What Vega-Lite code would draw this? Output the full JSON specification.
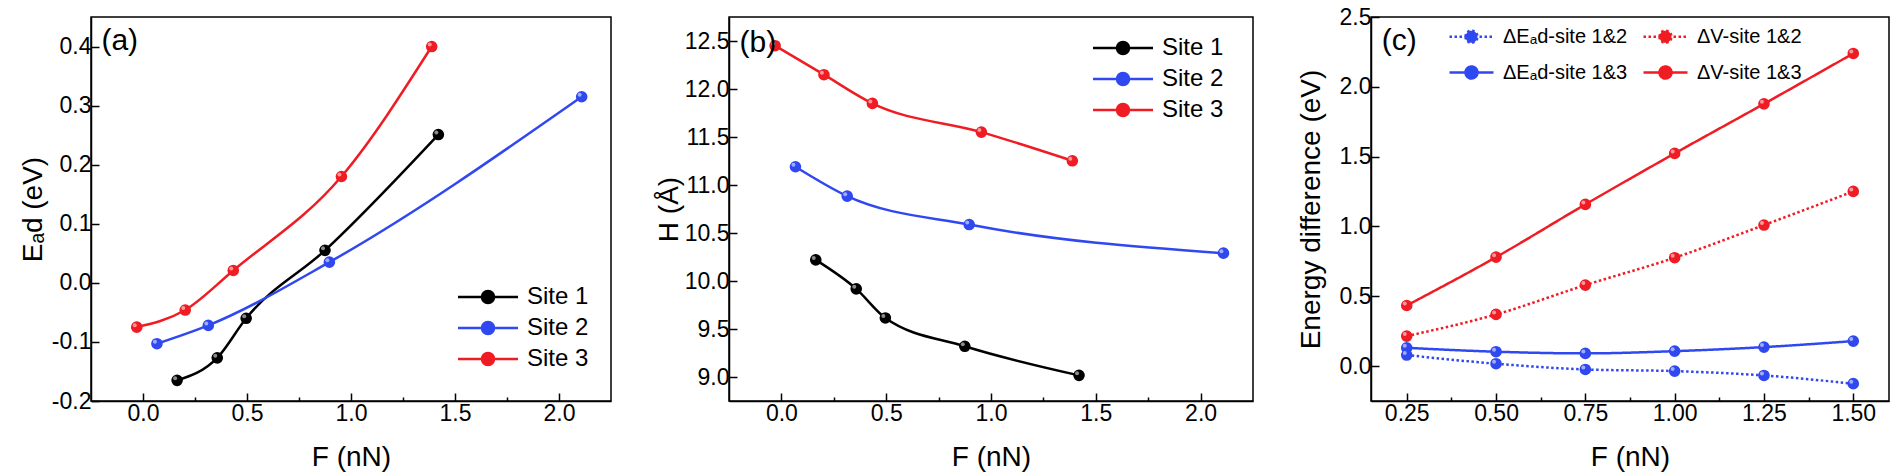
{
  "$schema": "https://vega.github.io/schema/vega-lite/v6.json",
  "background": "white",
  "padding": {"left": 18, "top": 5, "right": 0, "bottom": 0},
  "datasets": {
    "a": [
      {"F": 0.164, "E": -0.165, "site": "Site 1"},
      {"F": 0.357, "E": -0.127, "site": "Site 1"},
      {"F": 0.496, "E": -0.060, "site": "Site 1"},
      {"F": 0.875, "E": 0.055, "site": "Site 1"},
      {"F": 1.42, "E": 0.251, "site": "Site 1"},
      {"F": 0.067, "E": -0.103, "site": "Site 2"},
      {"F": 0.314, "E": -0.072, "site": "Site 2"},
      {"F": 0.896, "E": 0.035, "site": "Site 2"},
      {"F": 2.109, "E": 0.315, "site": "Site 2"},
      {"F": -0.030, "E": -0.075, "site": "Site 3"},
      {"F": 0.203, "E": -0.046, "site": "Site 3"},
      {"F": 0.434, "E": 0.021, "site": "Site 3"},
      {"F": 0.954, "E": 0.180, "site": "Site 3"},
      {"F": 1.388, "E": 0.400, "site": "Site 3"}
    ],
    "b": [
      {"F": 0.164, "H": 10.22, "site": "Site 1"},
      {"F": 0.357, "H": 9.918, "site": "Site 1"},
      {"F": 0.496, "H": 9.615, "site": "Site 1"},
      {"F": 0.875, "H": 9.32, "site": "Site 1"},
      {"F": 1.42, "H": 9.017, "site": "Site 1"},
      {"F": 0.067, "H": 11.19, "site": "Site 2"},
      {"F": 0.314, "H": 10.884, "site": "Site 2"},
      {"F": 0.896, "H": 10.588, "site": "Site 2"},
      {"F": 2.109, "H": 10.29, "site": "Site 2"},
      {"F": -0.030, "H": 12.451, "site": "Site 3"},
      {"F": 0.203, "H": 12.149, "site": "Site 3"},
      {"F": 0.434, "H": 11.85, "site": "Site 3"},
      {"F": 0.954, "H": 11.551, "site": "Site 3"},
      {"F": 1.388, "H": 11.252, "site": "Site 3"}
    ],
    "c": [
      {"F": 0.25, "D": 0.079, "s": "ΔEₐd-site 1&2"},
      {"F": 0.5, "D": 0.017, "s": "ΔEₐd-site 1&2"},
      {"F": 0.75, "D": -0.024, "s": "ΔEₐd-site 1&2"},
      {"F": 1.0, "D": -0.036, "s": "ΔEₐd-site 1&2"},
      {"F": 1.25, "D": -0.067, "s": "ΔEₐd-site 1&2"},
      {"F": 1.5, "D": -0.126, "s": "ΔEₐd-site 1&2"},
      {"F": 0.25, "D": 0.215, "s": "ΔV-site 1&2"},
      {"F": 0.5, "D": 0.370, "s": "ΔV-site 1&2"},
      {"F": 0.75, "D": 0.580, "s": "ΔV-site 1&2"},
      {"F": 1.0, "D": 0.776, "s": "ΔV-site 1&2"},
      {"F": 1.25, "D": 1.010, "s": "ΔV-site 1&2"},
      {"F": 1.5, "D": 1.251, "s": "ΔV-site 1&2"},
      {"F": 0.25, "D": 0.131, "s": "ΔEₐd-site 1&3"},
      {"F": 0.5, "D": 0.103, "s": "ΔEₐd-site 1&3"},
      {"F": 0.75, "D": 0.091, "s": "ΔEₐd-site 1&3"},
      {"F": 1.0, "D": 0.107, "s": "ΔEₐd-site 1&3"},
      {"F": 1.25, "D": 0.136, "s": "ΔEₐd-site 1&3"},
      {"F": 1.5, "D": 0.179, "s": "ΔEₐd-site 1&3"},
      {"F": 0.25, "D": 0.434, "s": "ΔV-site 1&3"},
      {"F": 0.5, "D": 0.780, "s": "ΔV-site 1&3"},
      {"F": 0.75, "D": 1.158, "s": "ΔV-site 1&3"},
      {"F": 1.0, "D": 1.523, "s": "ΔV-site 1&3"},
      {"F": 1.25, "D": 1.878, "s": "ΔV-site 1&3"},
      {"F": 1.5, "D": 2.239, "s": "ΔV-site 1&3"}
    ]
  },
  "bounds": "flush",
  "spacing": 118,
  "hconcat": [
    {
      "width": 520,
      "height": 384,
      "layer": [
        {
          "data": {"name": "a"},
          "mark": {"type": "line", "interpolate": "monotone", "strokeWidth": 2.5, "point": {"filled": true, "size": 135, "opacity": 1}},
          "encoding": {
            "x": {
              "field": "F", "type": "quantitative",
              "scale": {"domain": [-0.25, 2.25], "nice": false, "zero": false},
              "axis": {
                "title": "F (nN)",
                "values": [0, 0.25, 0.5, 0.75, 1, 1.25, 1.5, 1.75, 2],
                "labelExpr": "datum.value % 0.5 === 0 ? format(datum.value, '.1f') : ''",
                "tickSize": {"condition": {"test": "datum.value % 0.5 !== 0", "value": -4}, "value": -8},
                "labelPadding": 9, "titlePadding": 14
              }
            },
            "y": {
              "field": "E", "type": "quantitative",
              "scale": {"domain": [-0.2, 0.45], "nice": false, "zero": false},
              "axis": {
                "title": "Eₐd (eV)",
                "values": [-0.2, -0.15, -0.1, -0.05, 0, 0.05, 0.1, 0.15, 0.2, 0.25, 0.3, 0.35, 0.4],
                "labelExpr": "abs(datum.value*10 - round(datum.value*10)) < 0.001 ? replace(format(datum.value, '.1f'), '−', '-') : ''",
                "tickSize": {"condition": {"test": "abs(datum.value*10 - round(datum.value*10)) > 0.001", "value": -4}, "value": -8},
                "labelPadding": 8, "titlePadding": 4
              }
            },
            "color": {
              "field": "site", "type": "nominal",
              "scale": {"domain": ["Site 1", "Site 2", "Site 3"], "range": ["#000000", "#3048f0", "#f01c24"]},
              "legend": {
                "orient": "none", "legendX": 405, "legendY": 268, "title": null,
                "symbolType": "M-5,0L1,0M-2.6,0A0.6,0.6,0,1,1,-1.4,0A0.6,0.6,0,1,1,-2.6,0Z",
                "symbolSize": 400, "symbolStrokeWidth": 2.5,
                "labelFontSize": 24, "labelOffset": 7, "rowPadding": 7,
                "encode": {"symbols": {"update": {"fill": {"signal": "datum.value === 'Site 1' ? '#000000' : datum.value === 'Site 2' ? '#3048f0' : '#f01c24'"}}}}
              }
            }
          }
        },
        {
          "data": {"name": "a"},
          "mark": {"type": "point", "filled": true, "size": 16, "color": "#ffffff", "opacity": 0.55, "xOffset": -2, "yOffset": -2},
          "encoding": {
            "x": {"field": "F", "type": "quantitative"},
            "y": {"field": "E", "type": "quantitative"}
          }
        },
        {
          "data": {"values": [{"F": -0.2, "E": 0.41, "label": "(a)"}]},
          "mark": {"type": "text", "align": "left", "baseline": "middle", "fontSize": 30, "font": "Liberation Sans", "color": "#000000"},
          "encoding": {
            "x": {"field": "F", "type": "quantitative"},
            "y": {"field": "E", "type": "quantitative"},
            "text": {"field": "label"}
          }
        }
      ]
    },
    {
      "width": 524,
      "height": 384,
      "layer": [
        {
          "data": {"name": "b"},
          "mark": {"type": "line", "interpolate": "monotone", "strokeWidth": 2.5, "point": {"filled": true, "size": 135, "opacity": 1}},
          "encoding": {
            "x": {
              "field": "F", "type": "quantitative",
              "scale": {"domain": [-0.25, 2.25], "nice": false, "zero": false},
              "axis": {
                "title": "F (nN)",
                "values": [0, 0.25, 0.5, 0.75, 1, 1.25, 1.5, 1.75, 2],
                "labelExpr": "datum.value % 0.5 === 0 ? format(datum.value, '.1f') : ''",
                "tickSize": {"condition": {"test": "datum.value % 0.5 !== 0", "value": -4}, "value": -8},
                "labelPadding": 9, "titlePadding": 14
              }
            },
            "y": {
              "field": "H", "type": "quantitative",
              "scale": {"domain": [8.75, 12.75], "nice": false, "zero": false},
              "axis": {
                "title": "H (Å)",
                "values": [9, 9.25, 9.5, 9.75, 10, 10.25, 10.5, 10.75, 11, 11.25, 11.5, 11.75, 12, 12.25, 12.5],
                "labelExpr": "datum.value % 0.5 === 0 ? format(datum.value, '.1f') : ''",
                "tickSize": {"condition": {"test": "datum.value % 0.5 !== 0", "value": -4}, "value": -8},
                "labelPadding": 8, "titlePadding": 1
              }
            },
            "color": {
              "field": "site", "type": "nominal",
              "scale": {"domain": ["Site 1", "Site 2", "Site 3"], "range": ["#000000", "#3048f0", "#f01c24"]},
              "legend": {
                "orient": "none", "legendX": 402, "legendY": 19, "title": null,
                "symbolType": "M-5,0L1,0M-2.6,0A0.6,0.6,0,1,1,-1.4,0A0.6,0.6,0,1,1,-2.6,0Z",
                "symbolSize": 400, "symbolStrokeWidth": 2.5,
                "labelFontSize": 24, "labelOffset": 7, "rowPadding": 7,
                "encode": {"symbols": {"update": {"fill": {"signal": "datum.value === 'Site 1' ? '#000000' : datum.value === 'Site 2' ? '#3048f0' : '#f01c24'"}}}}
              }
            }
          }
        },
        {
          "data": {"name": "b"},
          "mark": {"type": "point", "filled": true, "size": 16, "color": "#ffffff", "opacity": 0.55, "xOffset": -2, "yOffset": -2},
          "encoding": {
            "x": {"field": "F", "type": "quantitative"},
            "y": {"field": "H", "type": "quantitative"}
          }
        },
        {
          "data": {"values": [{"F": -0.2, "H": 12.48, "label": "(b)"}]},
          "mark": {"type": "text", "align": "left", "baseline": "middle", "fontSize": 30, "font": "Liberation Sans", "color": "#000000"},
          "encoding": {
            "x": {"field": "F", "type": "quantitative"},
            "y": {"field": "H", "type": "quantitative"},
            "text": {"field": "label"}
          }
        }
      ]
    },
    {
      "width": 518,
      "height": 384,
      "layer": [
        {
          "data": {"name": "c"},
          "mark": {"type": "line", "interpolate": "monotone", "strokeWidth": 2.5, "point": {"filled": true, "size": 135, "opacity": 1}},
          "encoding": {
            "x": {
              "field": "F", "type": "quantitative",
              "scale": {"domain": [0.15, 1.6], "nice": false, "zero": false},
              "axis": {
                "title": "F (nN)",
                "values": [0.25, 0.375, 0.5, 0.625, 0.75, 0.875, 1, 1.125, 1.25, 1.375, 1.5],
                "labelExpr": "datum.value % 0.25 === 0 ? format(datum.value, '.2f') : ''",
                "tickSize": {"condition": {"test": "datum.value % 0.25 !== 0", "value": -4}, "value": -8},
                "labelPadding": 9, "titlePadding": 14
              }
            },
            "y": {
              "field": "D", "type": "quantitative",
              "scale": {"domain": [-0.25, 2.5], "nice": false, "zero": false},
              "axis": {
                "title": "Energy difference (eV)",
                "values": [0, 0.25, 0.5, 0.75, 1, 1.25, 1.5, 1.75, 2, 2.25, 2.5],
                "labelExpr": "datum.value % 0.5 === 0 ? format(datum.value, '.1f') : ''",
                "tickSize": {"condition": {"test": "datum.value % 0.5 !== 0", "value": -4}, "value": -8},
                "labelPadding": 8, "titlePadding": 14
              }
            },
            "color": {
              "field": "s", "type": "nominal",
              "scale": {"domain": ["ΔEₐd-site 1&2", "ΔV-site 1&2", "ΔEₐd-site 1&3", "ΔV-site 1&3"], "range": ["#3048f0", "#f01c24", "#3048f0", "#f01c24"]},
              "legend": {
                "orient": "none", "legendX": 101, "legendY": 8, "title": null, "columns": 2, "direction": "horizontal", "columnPadding": 10,
                "symbolType": "M-3.4,0L1,0M-1.8,0A0.6,0.6,0,1,1,-0.6,0A0.6,0.6,0,1,1,-1.8,0Z",
                "symbolSize": 400, "symbolStrokeWidth": 2.5,
                "labelFontSize": 20, "labelOffset": 8, "rowPadding": 13,
                "encode": {"symbols": {"update": {"fill": {"signal": "indexOf(datum.value, 'ΔV') === 0 ? '#f01c24' : '#3048f0'"}}}}
              }
            },
            "strokeDash": {
              "field": "s", "type": "nominal",
              "scale": {"domain": ["ΔEₐd-site 1&2", "ΔV-site 1&2", "ΔEₐd-site 1&3", "ΔV-site 1&3"], "range": [[2.5, 2.5], [2.5, 2.5], [1, 0], [1, 0]]}
            }
          }
        },
        {
          "data": {"name": "c"},
          "mark": {"type": "point", "filled": true, "size": 16, "color": "#ffffff", "opacity": 0.55, "xOffset": -2, "yOffset": -2},
          "encoding": {
            "x": {"field": "F", "type": "quantitative"},
            "y": {"field": "D", "type": "quantitative"}
          }
        },
        {
          "data": {"values": [{"F": 0.18, "D": 2.33, "label": "(c)"}]},
          "mark": {"type": "text", "align": "left", "baseline": "middle", "fontSize": 30, "font": "Liberation Sans", "color": "#000000"},
          "encoding": {
            "x": {"field": "F", "type": "quantitative"},
            "y": {"field": "D", "type": "quantitative"},
            "text": {"field": "label"}
          }
        }
      ]
    }
  ],
  "resolve": {"scale": {"color": "independent", "strokeDash": "independent"}},
  "config": {
    "font": "Liberation Sans",
    "view": {"stroke": "#000000", "strokeWidth": 1.5},
    "axis": {
      "grid": false,
      "domainColor": "#000000", "domainWidth": 1.5,
      "tickColor": "#000000", "tickWidth": 1.5,
      "labelFont": "Liberation Sans", "labelFontSize": 23, "labelColor": "#000000",
      "labelOverlap": false, "labelFlush": false,
      "titleFont": "Liberation Sans", "titleFontSize": 28, "titleFontWeight": "normal", "titleColor": "#000000"
    },
    "legend": {"labelFont": "Liberation Sans", "labelColor": "#000000", "padding": 0}
  }
}
